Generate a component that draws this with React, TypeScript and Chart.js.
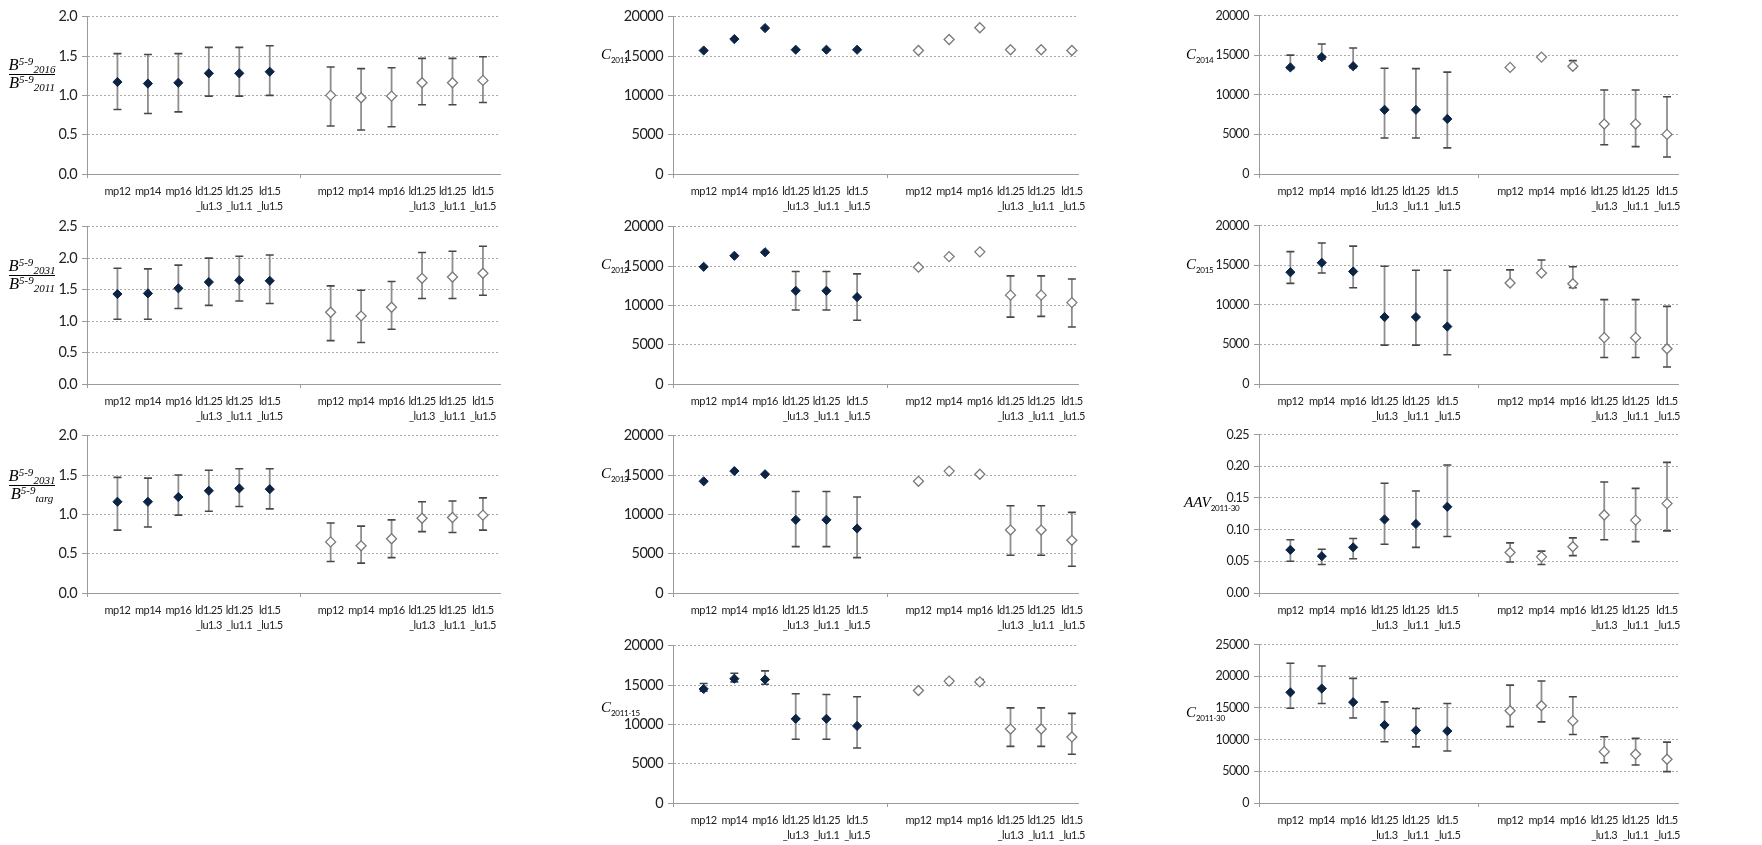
import React, { useEffect, useRef } from 'react';
import { Chart, registerables } from 'chart.js';

Chart.register(...registerables);

// ---------------- data ----------------
const scenarioLabels: string[][] = [
  ['mp12'], ['mp14'], ['mp16'], ['ld1.25', '_lu1.3'], ['ld1.25', '_lu1.1'], ['ld1.5', '_lu1.5'],
];
// category slots along the x axis: group one 1-6, empty slot 7, group two 8-13
const categorySlots = [1, 2, 3, 4, 5, 6, 8, 9, 10, 11, 12, 13];
const axisTickSlots = [0, 1, 2, 3, 4, 5, 6, 7, 8, 9, 10, 11, 12, 13];
const separatorSlots = [0, 7];

// each array: first 6 = filled (dark) series, last 6 = open series
const b2016Mid = [1.17, 1.15, 1.16, 1.28, 1.28, 1.30, 1.00, 0.97, 0.99, 1.16, 1.16, 1.19];
const b2016Lo = [0.82, 0.77, 0.79, 0.99, 0.99, 1.00, 0.61, 0.56, 0.60, 0.88, 0.88, 0.91];
const b2016Hi = [1.53, 1.52, 1.53, 1.61, 1.61, 1.63, 1.36, 1.34, 1.35, 1.47, 1.47, 1.49];

const b2031Mid = [1.43, 1.44, 1.52, 1.62, 1.65, 1.64, 1.14, 1.08, 1.22, 1.68, 1.70, 1.76];
const b2031Lo = [1.03, 1.03, 1.20, 1.25, 1.32, 1.28, 0.69, 0.66, 0.87, 1.36, 1.36, 1.41];
const b2031Hi = [1.84, 1.83, 1.89, 2.00, 2.03, 2.05, 1.56, 1.49, 1.63, 2.09, 2.11, 2.19];

const bTargMid = [1.16, 1.16, 1.22, 1.30, 1.33, 1.32, 0.65, 0.60, 0.69, 0.95, 0.96, 0.99];
const bTargLo = [0.80, 0.84, 0.99, 1.04, 1.10, 1.07, 0.40, 0.38, 0.45, 0.78, 0.77, 0.80];
const bTargHi = [1.47, 1.46, 1.50, 1.56, 1.58, 1.58, 0.89, 0.85, 0.93, 1.16, 1.17, 1.21];

const c2011Mid = [15700, 17150, 18550, 15800, 15800, 15800, 15700, 17100, 18600, 15800, 15800, 15700];
const c2011Lo = [null, null, null, null, null, null, null, null, null, null, null, null];
const c2011Hi = [null, null, null, null, null, null, null, null, null, null, null, null];

const c2012Mid = [14900, 16300, 16750, 11850, 11850, 11050, 14850, 16200, 16800, 11300, 11300, 10350];
const c2012Lo = [null, null, null, 9400, 9400, 8100, null, null, null, 8500, 8600, 7250];
const c2012Hi = [null, null, null, 14300, 14300, 14000, null, null, null, 13750, 13750, 13350];

const c2013Mid = [14200, 15500, 15100, 9300, 9300, 8200, 14200, 15500, 15100, 8000, 8000, 6700];
const c2013Lo = [null, null, null, 5900, 5900, 4500, null, null, null, 4800, 4800, 3400];
const c2013Hi = [null, null, null, 12900, 12900, 12200, null, null, null, 11100, 11100, 10250];

const c2011to15Mid = [14500, 15800, 15700, 10700, 10700, 9800, 14300, 15500, 15400, 9400, 9400, 8400];
const c2011to15Lo = [14200, 15400, 15100, 8100, 8100, 7000, null, 15300, 15200, 7200, 7200, 6200];
const c2011to15Hi = [15200, 16500, 16800, 13900, 13800, 13500, null, 15700, 15700, 12100, 12100, 11400];

const c2014Mid = [13450, 14750, 13600, 8100, 8100, 6950, 13450, 14750, 13600, 6300, 6300, 5000];
const c2014Lo = [13300, 14500, 13400, 4550, 4550, 3300, null, null, 13400, 3700, 3450, 2150];
const c2014Hi = [15000, 16400, 15900, 13350, 13300, 12850, null, null, 14300, 10600, 10600, 9750];

const c2015Mid = [14100, 15300, 14200, 8450, 8450, 7250, 12750, 14000, 12650, 5850, 5850, 4450];
const c2015Lo = [12700, 14000, 12150, 4900, 4900, 3700, 12750, 14000, 12150, 3350, 3350, 2150];
const c2015Hi = [16700, 17800, 17400, 14850, 14350, 14350, 14400, 15650, 14800, 10650, 10650, 9800];

const aavMid = [0.068, 0.058, 0.072, 0.116, 0.109, 0.136, 0.064, 0.057, 0.073, 0.123, 0.115, 0.141];
const aavLo = [0.050, 0.045, 0.054, 0.077, 0.072, 0.089, 0.049, 0.045, 0.059, 0.084, 0.081, 0.098];
const aavHi = [0.084, 0.069, 0.086, 0.173, 0.161, 0.202, 0.079, 0.066, 0.087, 0.175, 0.165, 0.206];

const c2011to30Mid = [17450, 18050, 15900, 12300, 11450, 11350, 14550, 15350, 12950, 8100, 7700, 6900];
const c2011to30Lo = [14950, 15700, 13400, 9650, 8850, 8200, 12050, 12800, 10800, 6350, 6000, 4950];
const c2011to30Hi = [22050, 21600, 19650, 15950, 14900, 15700, 18600, 19250, 16750, 10450, 10200, 9600];

// y axis ranges: [max, step, decimals]
const ratioAxis = [2.0, 0.5, 1];
const ratioAxisWide = [2.5, 0.5, 1];
const catchAxis = [20000, 5000, 0];
const catchAxisWide = [25000, 5000, 0];
const aavAxis = [0.25, 0.05, 2];

// axis titles
const fracNumerSubs = ['2016', '2031', '2031'];
const fracDenomSubs = ['2011', '2011', 'targ'];
const catchTitleMain = ['C', 'C', 'C', 'C', 'C', 'C', 'AAV', 'C'];
const catchTitleSubs = ['2011', '2012', '2013', '2011-15', '2014', '2015', '2011-30', '2011-30'];

// ---------------- layout / styles ----------------
const colCanvasLeft = [0, 600, 1178];
const colPlotLeft = [87, 673, 1259];
const colPlotRight = [500, 1078, 1678];
const colXMax = [13.56, 13.2, 13.35];
const colYFont = [14.5, 14.5, 12.5];
const rowPlotTop = [15, 225, 434, 644];
const PLOT_H = 159;
const PAD_TOP = 12;
const X_AXIS_H = 44;
const PAD_RIGHT = 20;

const NAVY = '#0c2343';
const OPEN_EDGE = '#7a7a7a';
const STEM = '#8e8e8e';
const CAP = '#474747';
const AXIS = '#9b9b9b';
const GRID = '#a9a9a9';
const TICK_TEXT = '#222222';
const SANS = 'Lato, "Noto Sans", sans-serif';
const SERIF = '"Liberation Serif", "DejaVu Serif", serif';

Chart.defaults.font.family = SANS;

// slightly condensed tick text (Calibri-like proportions)
const tightTextPlugin = {
  id: 'tightText',
  beforeDraw(chart: any) { chart.ctx.letterSpacing = '-0.55px'; },
  afterDraw(chart: any) { chart.ctx.letterSpacing = '0px'; },
};

type Spec = {
  key: string; col: number; row: number;
  mid: number[]; lo: (number | null)[]; hi: (number | null)[];
  axis: number[];
};

const specs: Spec[] = [
  { key: 'b2016', col: 0, row: 0, mid: b2016Mid, lo: b2016Lo, hi: b2016Hi, axis: ratioAxis },
  { key: 'b2031', col: 0, row: 1, mid: b2031Mid, lo: b2031Lo, hi: b2031Hi, axis: ratioAxisWide },
  { key: 'btarg', col: 0, row: 2, mid: bTargMid, lo: bTargLo, hi: bTargHi, axis: ratioAxis },
  { key: 'c2011', col: 1, row: 0, mid: c2011Mid, lo: c2011Lo, hi: c2011Hi, axis: catchAxis },
  { key: 'c2012', col: 1, row: 1, mid: c2012Mid, lo: c2012Lo, hi: c2012Hi, axis: catchAxis },
  { key: 'c2013', col: 1, row: 2, mid: c2013Mid, lo: c2013Lo, hi: c2013Hi, axis: catchAxis },
  { key: 'c1115', col: 1, row: 3, mid: c2011to15Mid, lo: c2011to15Lo, hi: c2011to15Hi, axis: catchAxis },
  { key: 'c2014', col: 2, row: 0, mid: c2014Mid, lo: c2014Lo, hi: c2014Hi, axis: catchAxis },
  { key: 'c2015', col: 2, row: 1, mid: c2015Mid, lo: c2015Lo, hi: c2015Hi, axis: catchAxis },
  { key: 'aav', col: 2, row: 2, mid: aavMid, lo: aavLo, hi: aavHi, axis: aavAxis },
  { key: 'c1130', col: 2, row: 3, mid: c2011to30Mid, lo: c2011to30Lo, hi: c2011to30Hi, axis: catchAxisWide },
];

function labelForSlot(v: number): string | string[] {
  const i = categorySlots.indexOf(v);
  return i < 0 ? '' : scenarioLabels[i % 6];
}

function Panel({ spec }: { spec: Spec }) {
  const ref = useRef<HTMLCanvasElement | null>(null);
  const canvasLeft = colCanvasLeft[spec.col];
  const canvasTop = rowPlotTop[spec.row] - PAD_TOP;
  const yAxisW = colPlotLeft[spec.col] - canvasLeft;
  const width = colPlotRight[spec.col] - canvasLeft + PAD_RIGHT;
  const height = PAD_TOP + PLOT_H + X_AXIS_H;

  useEffect(() => {
    if (!ref.current) return;
    const filled: any[] = [];
    const open: any[] = [];
    const caps: any[] = [];
    const stems: any[] = [];
    spec.mid.forEach((m, i) => {
      const x = categorySlots[i];
      (i < 6 ? filled : open).push({ x, y: m });
      const lo = spec.lo[i];
      const hi = spec.hi[i];
      if (lo != null && hi != null) {
        caps.push({ x, y: lo }, { x, y: hi });
        stems.push({ x, y: lo }, { x, y: hi }, { x, y: null });
      }
    });
    const [yMax, yStep, dec] = spec.axis;
    const chart = new Chart(ref.current, {
      type: 'scatter',
      plugins: [tightTextPlugin],
      data: {
        datasets: [
          { data: filled, pointStyle: 'rectRot', pointRadius: 4.6, pointHoverRadius: 4.6,
            backgroundColor: NAVY, borderColor: NAVY, borderWidth: 1, order: 0 } as any,
          { data: open, pointStyle: 'rectRot', pointRadius: 5, pointHoverRadius: 5,
            backgroundColor: '#ffffff', borderColor: OPEN_EDGE, borderWidth: 1.3, order: 0 } as any,
          { data: caps, pointStyle: 'line', pointRadius: 4, pointHoverRadius: 4,
            borderColor: CAP, backgroundColor: CAP, borderWidth: 1.6, order: 1 } as any,
          { data: stems, showLine: true, spanGaps: false, pointRadius: 0, pointHoverRadius: 0,
            borderColor: STEM, backgroundColor: STEM, borderWidth: 1.8, order: 2 } as any,
        ],
      },
      options: {
        animation: false,
        responsive: false,
        maintainAspectRatio: false,
        events: [],
        layout: { padding: { top: PAD_TOP, right: PAD_RIGHT, bottom: 0, left: 0 } },
        plugins: { legend: { display: false }, tooltip: { enabled: false }, title: { display: false } },
        scales: {
          x: {
            type: 'linear',
            min: 0,
            max: colXMax[spec.col],
            afterBuildTicks: (s: any) => { s.ticks = axisTickSlots.map((v) => ({ value: v })); },
            afterFit: (s: any) => { s.height = X_AXIS_H; },
            ticks: {
              autoSkip: false, maxRotation: 0, minRotation: 0, padding: 6,
              color: TICK_TEXT,
              font: { family: SANS, size: 11, lineHeight: 1.38 },
              callback: (v: any) => labelForSlot(Number(v)),
            },
            grid: {
              drawOnChartArea: false, drawTicks: true, tickLength: 4,
              color: 'rgba(0,0,0,0)',
              tickColor: (c: any) => (c.tick && separatorSlots.includes(c.tick.value) ? AXIS : 'rgba(0,0,0,0)'),
            },
            border: { display: true, color: AXIS, width: 1 },
          },
          y: {
            type: 'linear',
            min: 0,
            max: yMax,
            afterFit: (s: any) => { s.width = yAxisW; },
            ticks: {
              stepSize: yStep, padding: 5, color: TICK_TEXT,
              font: { family: SANS, size: colYFont[spec.col] },
              callback: (v: any) => Number(v).toFixed(dec),
            },
            grid: { color: GRID, lineWidth: 1, drawTicks: true, tickLength: 5, tickColor: AXIS },
            border: { display: true, color: AXIS, width: 1, dash: [2, 2] },
          },
        },
      } as any,
    });
    return () => chart.destroy();
  }, []);

  return (
    <canvas
      ref={ref}
      width={width}
      height={height}
      style={{ position: 'absolute', left: canvasLeft, top: canvasTop, width, height, display: 'block' }}
    />
  );
}

function BTerm({ sub }: { sub: string }) {
  return (
    <span style={{ whiteSpace: 'nowrap' }}>
      <span style={{ fontSize: 16.5 }}>B</span>
      <span style={{ fontSize: 11, position: 'relative', top: -5 }}>5-9</span>
      <span style={{ fontSize: 11, position: 'relative', top: 3 }}>{sub}</span>
    </span>
  );
}

function Fraction({ left, cy, num, den }: { left: number; cy: number; num: string; den: string }) {
  return (
    <div style={{ position: 'absolute', left, top: cy - 16, width: 48, textAlign: 'center',
      fontFamily: SERIF, fontStyle: 'italic', color: '#000', lineHeight: '15px' }}>
      <div style={{ display: 'inline-block', borderBottom: '1px solid #000', lineHeight: '15px' }}><BTerm sub={num} /></div>
      <div style={{ lineHeight: '16px' }}><BTerm sub={den} /></div>
    </div>
  );
}

function SubTitle({ left, cy, main, sub }: { left: number; cy: number; main: string; sub: string }) {
  return (
    <div style={{ position: 'absolute', left, top: cy - 10, height: 20, lineHeight: '20px', whiteSpace: 'nowrap', color: '#000' }}>
      <span style={{ fontFamily: SERIF, fontStyle: 'italic', fontSize: 15 }}>{main}</span>
      <span style={{ fontFamily: SANS, fontSize: 8, letterSpacing: '-0.3px', position: 'relative', top: 4 }}>{sub}</span>
    </div>
  );
}

const fracPos = [[8, 73], [8, 274], [8, 484]];
const subTitlePos = [[601, 54], [601, 264], [601, 473], [601, 707], [1186, 54], [1186, 264], [1184, 502], [1186, 712]];

export default function App() {
  useEffect(() => {
    document.body.style.margin = '0';
  }, []);
  return (
    <div style={{ position: 'absolute', left: 0, top: 0, width: 1762, height: 845, background: '#ffffff', overflow: 'hidden' }}>
      {specs.map((s) => <Panel key={s.key} spec={s} />)}
      {fracPos.map((p, i) => (
        <Fraction key={'f' + i} left={p[0]} cy={p[1]} num={fracNumerSubs[i]} den={fracDenomSubs[i]} />
      ))}
      {subTitlePos.map((p, i) => (
        <SubTitle key={'t' + i} left={p[0]} cy={p[1]} main={catchTitleMain[i]} sub={catchTitleSubs[i]} />
      ))}
    </div>
  );
}
